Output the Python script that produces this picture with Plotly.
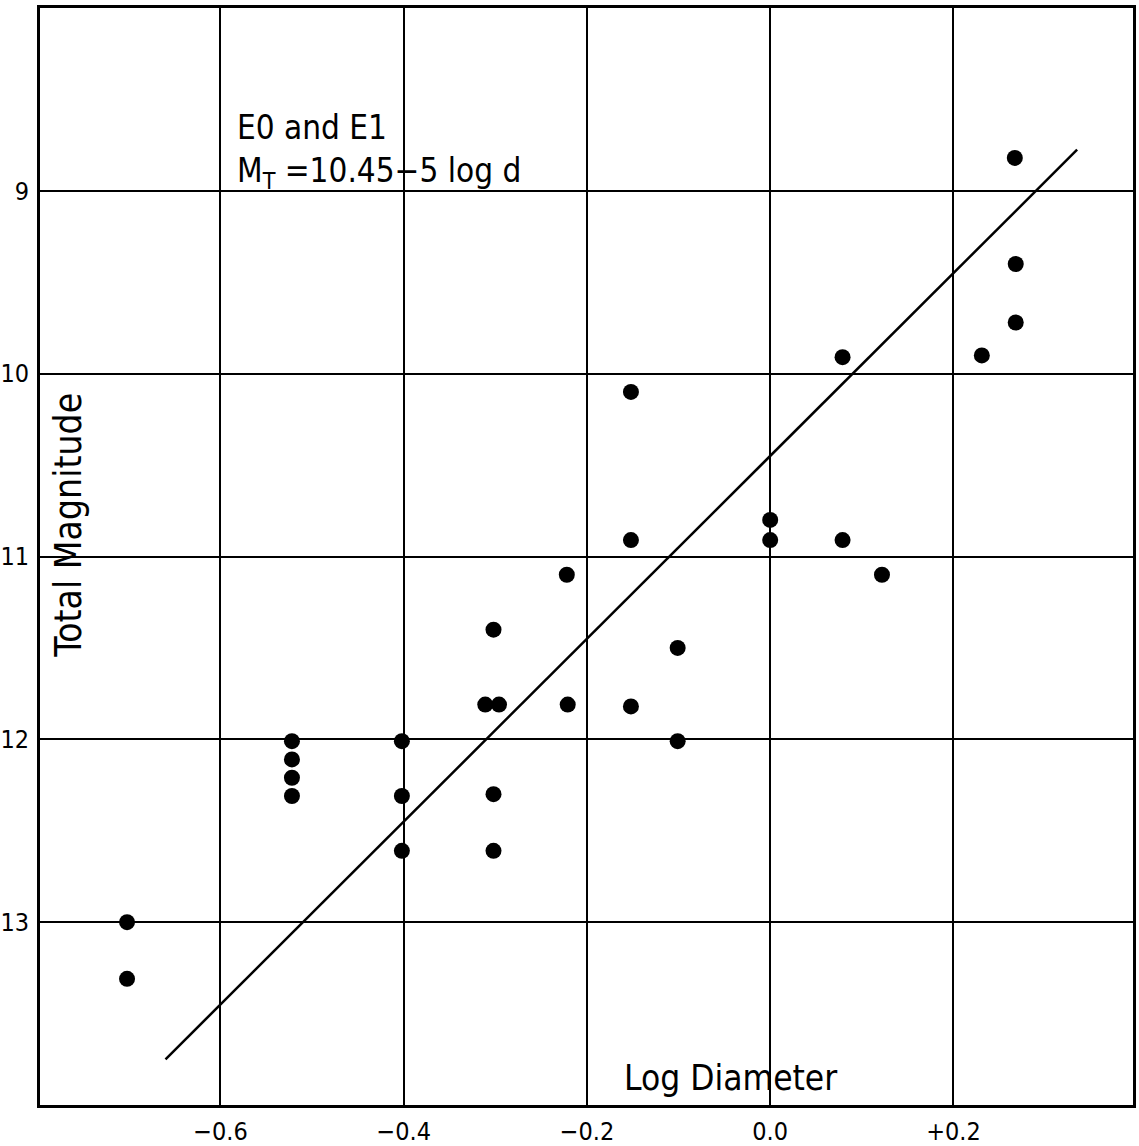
import plotly.graph_objects as go

# Data
log_d = [0.267, 0.268, 0.268, 0.231, 0.079, -0.152, 0.0, 0.0, 0.079, -0.152,
         0.122, -0.222, -0.302, -0.101, -0.311, -0.296, -0.221, -0.152, -0.101,
         -0.522, -0.522, -0.522, -0.522, -0.402, -0.402, -0.402, -0.302, -0.302,
         -0.702, -0.702]
mag = [8.82, 9.40, 9.72, 9.90, 9.91, 10.10, 10.80, 10.91, 10.91, 10.91,
       11.10, 11.10, 11.40, 11.50, 11.81, 11.81, 11.81, 11.82, 12.01,
       12.01, 12.11, 12.21, 12.31, 12.01, 12.31, 12.61, 12.30, 12.61,
       13.00, 13.31]

fit_x = [-0.66, 0.335]
fit_y = [13.75, 8.775]

x_ticks = [-0.6, -0.4, -0.2, 0.0, 0.2]
x_tick_labels = ["\u22120.6", "\u22120.4", "\u22120.2", "0.0", "+0.2"]
y_ticks = [9, 10, 11, 12, 13]
y_tick_labels = ["9", "10", "11", "12", "13"]

FONT = "Liberation Sans Narrow, DejaVu Sans Condensed, Arial Narrow, sans-serif"

fig = go.Figure()
fig.add_trace(go.Scatter(x=fit_x, y=fit_y, mode="lines",
                         line=dict(color="black", width=2.5),
                         hoverinfo="skip", showlegend=False))
fig.add_trace(go.Scatter(x=log_d, y=mag, mode="markers",
                         marker=dict(color="black", size=16),
                         showlegend=False))

fig.add_annotation(x=-0.584, y=8.656, xref="x", yref="y", text="E0 and E1",
                   showarrow=False, xanchor="left", yanchor="middle",
                   font=dict(family=FONT, size=33, color="black"))
fig.add_annotation(x=-0.584, y=8.90, xref="x", yref="y",
                   text="M<sub>T</sub> =10.45\u22125 log d",
                   showarrow=False, xanchor="left", yanchor="middle",
                   font=dict(family=FONT, size=33, color="black"))
fig.add_annotation(x=-0.043, y=13.852, xref="x", yref="y", text="Log Diameter",
                   showarrow=False, xanchor="center", yanchor="middle",
                   font=dict(family=FONT, size=35, color="black"))
fig.add_annotation(x=-0.766, y=10.83, xref="x", yref="y", text="Total Magnitude",
                   showarrow=False, xanchor="center", yanchor="middle",
                   textangle=-90,
                   font=dict(family=FONT, size=37, color="black"))

fig.update_xaxes(range=[-0.797, 0.396], tickvals=x_ticks, ticktext=x_tick_labels,
                 showgrid=True, gridcolor="black", gridwidth=1.5, automargin=False,
                 zeroline=False, showline=True, linecolor="black", linewidth=3,
                 mirror=True, ticks="", ticklabelstandoff=2,
                 tickfont=dict(family=FONT, size=25, color="black"))
fig.update_yaxes(range=[14.0, 8.0], tickvals=y_ticks, ticktext=y_tick_labels,
                 showgrid=True, gridcolor="black", gridwidth=1.5, automargin=False,
                 zeroline=False, showline=True, linecolor="black", linewidth=3,
                 mirror=True, ticks="", ticklabelstandoff=3,
                 tickfont=dict(family=FONT, size=25, color="black"))

fig.update_layout(width=1139, height=1146,
                  margin=dict(l=40, r=6, t=8, b=41),
                  plot_bgcolor="white", paper_bgcolor="white",
                  showlegend=False)

fig.write_html("out.html")
